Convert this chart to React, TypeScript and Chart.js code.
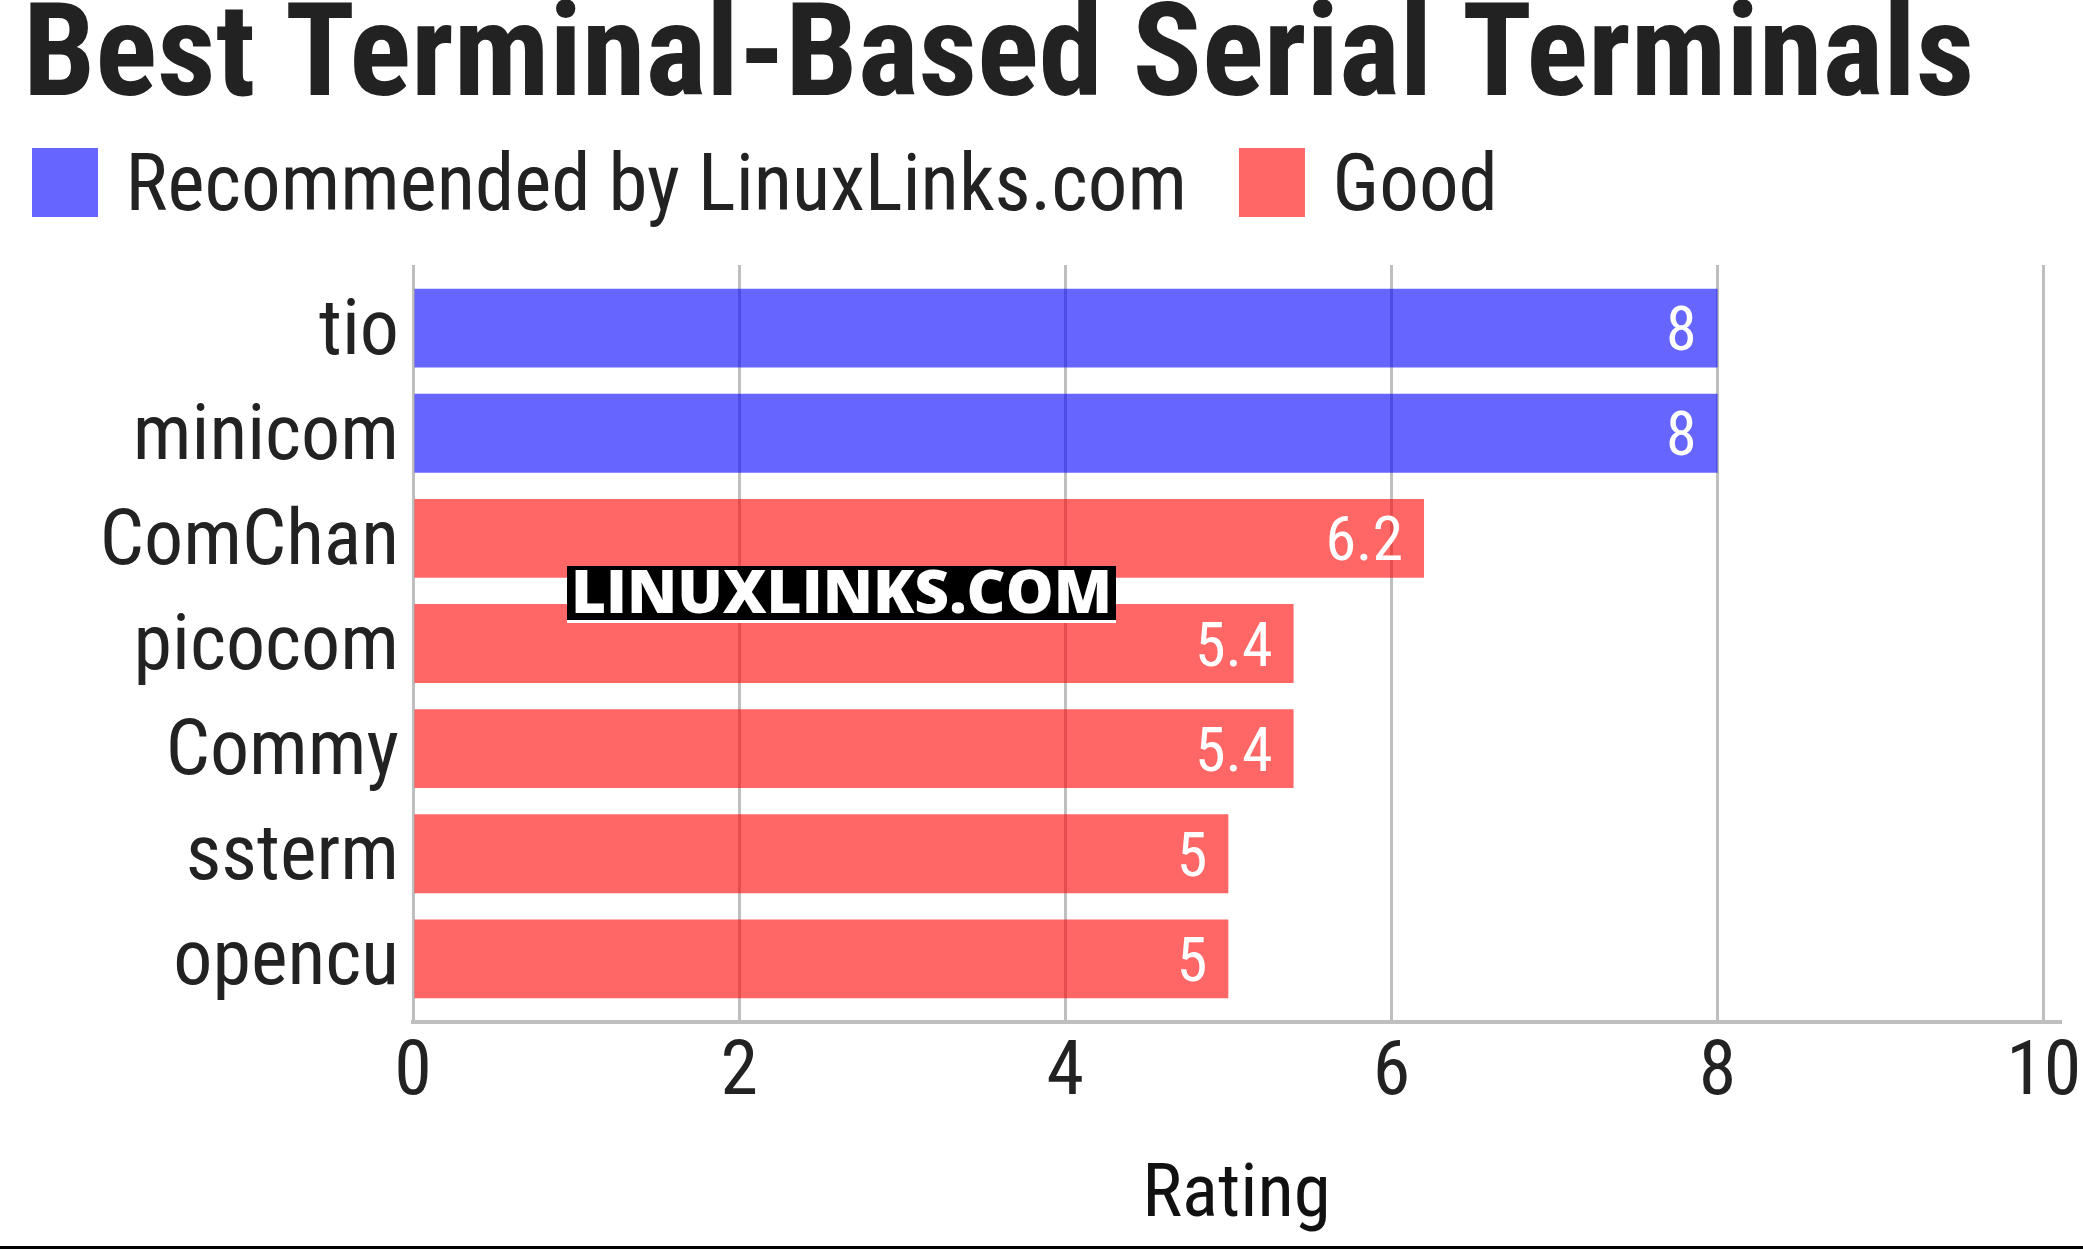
import React, { useEffect, useRef } from 'react';
import { Chart, registerables } from 'chart.js';

Chart.register(...registerables);

// ---------- data ----------
const TITLE = 'Best Terminal-Based Serial Terminals';
const SERIES = ['Recommended by LinuxLinks.com', 'Good'];
const CATEGORIES = ['tio', 'minicom', 'ComChan', 'picocom', 'Commy', 'ssterm', 'opencu'];
const RATINGS = [8, 8, 6.2, 5.4, 5.4, 5, 5];
const SERIES_OF = [0, 0, 1, 1, 1, 1, 1];
const X_TICKS = [0, 2, 4, 6, 8, 10];
const AXIS_TITLE = 'Rating';
const WATERMARK = 'LINUXLINKS.COM';
const COLORS = ['rgba(0,0,255,0.6)', 'rgba(255,0,0,0.6)'];

const FAMILY = '"Roboto Condensed", Roboto, sans-serif';

export default function App() {
  const ref = useRef<HTMLCanvasElement>(null);

  useEffect(() => {
    const f = (size: number, weight = '400', lineHeight = 1.2) => ({
      family: FAMILY,
      size,
      weight,
      lineHeight,
    });

    const datasets = SERIES.map((label, s) => ({
      label,
      data: CATEGORIES.map((_, i) => (SERIES_OF[i] === s ? { x: RATINGS[i], y: i } : null)).filter(Boolean) as any[],
      backgroundColor: COLORS[s],
      borderWidth: 0,
      grouped: false,
      barPercentage: 0.75,
      categoryPercentage: 1,
      xAxisID: 'x',
      yAxisID: 'y',
    }));

    const valueLabels = {
      id: 'valueLabels',
      afterDatasetsDraw(chart: any) {
        const ctx = chart.ctx as CanvasRenderingContext2D;
        ctx.save();
        ctx.font = `62px ${FAMILY}`;
        ctx.fillStyle = '#ffffff';
        ctx.textAlign = 'right';
        ctx.textBaseline = 'alphabetic';
        chart.data.datasets.forEach((ds: any, di: number) => {
          const meta = chart.getDatasetMeta(di);
          meta.data.forEach((bar: any, i: number) => {
            ctx.fillText(String(ds.data[i].x), bar.x - 21, bar.y + 22);
          });
        });
        ctx.restore();
      },
    };

    // legend drawn in the header band reserved under the title
    const headerLegend = {
      id: 'headerLegend',
      afterDraw(chart: any) {
        const ctx = chart.ctx as CanvasRenderingContext2D;
        ctx.save();
        ctx.font = `79px ${FAMILY}`;
        ctx.textBaseline = 'alphabetic';
        ctx.textAlign = 'left';
        let x = 32;
        SERIES.forEach((name, i) => {
          ctx.fillStyle = COLORS[i];
          ctx.fillRect(x, 148, 66, 69);
          ctx.fillStyle = '#222222';
          ctx.fillText(name, x + 93.6, 210);
          x += 93.6 + ctx.measureText(name).width + 52;
        });
        ctx.restore();
      },
    };

    const watermark = {
      id: 'watermark',
      afterDraw(chart: any) {
        const ctx = chart.ctx as CanvasRenderingContext2D;
        const x0 = 567, y0 = 566, w = 549, h = 54;
        ctx.save();
        ctx.fillStyle = '#000';
        ctx.fillRect(x0, y0, w, h);
        ctx.fillStyle = '#fff';
        ctx.fillRect(x0, y0 + h, w, 3);
        ctx.font = '800 60px "Open Sans"';
        const tw = ctx.measureText(WATERMARK).width;
        const sx = 541 / tw;
        ctx.translate(x0 + 4, y0 + 47);
        ctx.scale(sx, 1);
        ctx.textBaseline = 'alphabetic';
        ctx.textAlign = 'left';
        ctx.fillText(WATERMARK, 0, 0);
        ctx.restore();
      },
    };

    const chart = new Chart(ref.current as HTMLCanvasElement, {
      type: 'bar',
      data: { datasets: datasets as any },
      options: {
        indexAxis: 'y',
        responsive: false,
        animation: false,
        devicePixelRatio: 1,
        layout: { padding: { left: 23, right: 23, top: 0, bottom: 0 } },
        plugins: {
          title: {
            display: true,
            text: TITLE,
            align: 'start',
            color: '#222222',
            font: f(129, 'bold', 0.96) as any,
            padding: { top: 0.6, bottom: 140.6 },
          },
          legend: { display: false },
          tooltip: { enabled: false },
        },
        scales: {
          x: {
            type: 'linear',
            position: 'bottom',
            min: 0,
            max: 10.1,
            afterBuildTicks: (axis: any) => {
              axis.ticks = X_TICKS.map((value) => ({ value }));
            },
            afterFit: (axis: any) => {
              axis.height = 224;
              axis.paddingLeft = 0;
              axis.paddingRight = 0;
            },
            grid: { color: 'rgba(0,0,0,0.25)', lineWidth: 3, drawTicks: false },
            border: { display: true, color: 'rgba(0,0,0,0.25)', width: 4 },
            ticks: { color: '#222222', font: f(76) as any, padding: 7, autoSkip: false, maxRotation: 0 },
            title: {
              display: true,
              text: AXIS_TITLE,
              color: '#111111',
              font: f(75) as any,
              padding: { top: 0, bottom: 3.7 },
            },
          },
          y: {
            type: 'linear',
            position: 'left',
            reverse: true,
            offset: false,
            min: -0.6,
            max: 6.6,
            afterBuildTicks: (axis: any) => {
              axis.ticks = CATEGORIES.map((_, i) => ({ value: i }));
            },
            afterFit: (axis: any) => {
              axis.width = 390;
            },
            grid: { display: false },
            border: { display: false },
            ticks: {
              color: '#222222',
              font: f(78) as any,
              padding: 6,
              labelOffset: 6,
              autoSkip: false,
              callback: (v: any) => CATEGORIES[v] ?? '',
            },
          },
        },
      } as any,
      plugins: [valueLabels, headerLegend, watermark],
    });
    return () => chart.destroy();
  }, []);

  return (
    <div
      style={{
        position: 'absolute',
        left: 0,
        top: 0,
        width: 2083,
        height: 1246,
        borderBottom: '3px solid #000',
        background: '#fff',
      }}
    >
      <canvas ref={ref} width={2083} height={1246} style={{ display: 'block' }} />
    </div>
  );
}
